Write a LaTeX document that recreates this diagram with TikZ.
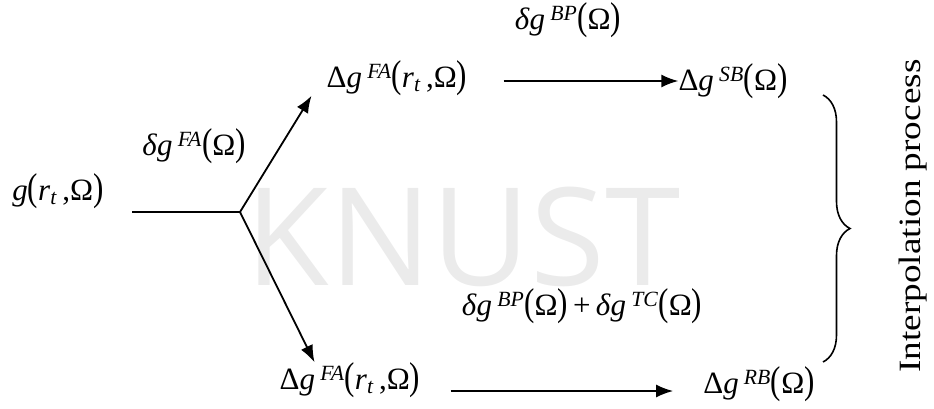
\documentclass[tikz,border=0pt]{standalone}
\usepackage{graphicx}
\usepackage{fontspec}
\setmainfont{Liberation Serif}
\newfontfamily\wmfont{Open Sans}
\usepackage{tikz}
\usetikzlibrary{arrows.meta,decorations.pathreplacing}

\newcommand{\lp}{\scalebox{1}[1.25]{(}}
\newcommand{\rp}{\scalebox{1}[1.25]{)}}
\newcommand{\gsup}[2]{#1\textit{g}\,\textsuperscript{\textit{#2}}}

\begin{document}
\begin{tikzpicture}[x=1pt,y=-1pt,
  lbl/.style={inner sep=0pt,font=\fontsize{31}{36}\selectfont},
  flow/.style={line width=1.8pt,-{Latex[length=17pt,width=13pt]}}]
  \useasboundingbox (0,0) rectangle (934,408);
  \node[inner sep=0pt,text=gray!16,font=\wmfont\fontsize{136}{140}\selectfont] (wm) at (463,237) {KNUST};

  \node[lbl] (gin) at (58,191) {\textit{g}\lp\textit{r}\textsubscript{\textit{t}}\,,Ω\rp};
  \node[lbl] (upFA) at (397,78) {\gsup{Δ}{FA}\lp\textit{r}\textsubscript{\textit{t}}\,,Ω\rp};
  \node[lbl] (loFA) at (350,380) {\gsup{Δ}{FA}\lp\textit{r}\textsubscript{\textit{t}}\,,Ω\rp};
  \node[lbl] (upSB) at (733,81) {\gsup{Δ}{SB}\lp Ω\rp};
  \node[lbl] (loRB) at (759,384) {\gsup{Δ}{RB}\lp Ω\rp};
  \node[lbl] (dFA) at (194,146) {\gsup{\textit{δ}}{FA}\lp Ω\rp};
  \node[lbl] (dBP) at (568,20) {\gsup{\textit{δ}}{BP}\lp Ω\rp};
  \node[lbl] (dBPTC) at (582,306) {\gsup{\textit{δ}}{BP}\lp Ω\rp\,+\,\gsup{\textit{δ}}{TC}\lp Ω\rp};
  \node[lbl,rotate=90] (interp) at (913,216) {\scalebox{1.2}[1]{Interpolation process}};

  \coordinate (start) at (132,212);
  \coordinate (fork) at (240,212);
  \draw[line width=1.8pt] (start) -- (fork);
  \draw[flow] (fork) -- ([xshift=-15pt]upFA.south west);
  \draw[flow] (fork) -- ([xshift=35pt]loFA.north west);
  \draw[flow] ([xshift=36pt]upFA.east |- upSB.west) -- (upSB.west);
  \draw[flow] ([xshift=30pt]loFA.east |- 0,391) -- ([xshift=-30pt]loRB.west |- 0,391);

  \draw[line width=1.6pt,decorate,decoration={brace,amplitude=27pt}] (823,95) -- (823,362);
\end{tikzpicture}
\end{document}
